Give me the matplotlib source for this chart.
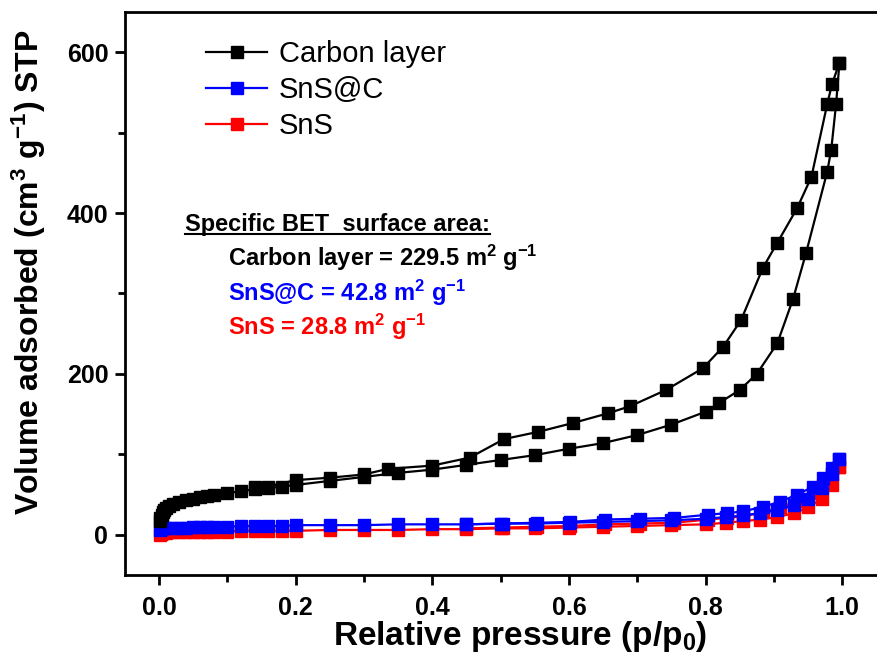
import matplotlib
matplotlib.use('Agg')
import matplotlib.pyplot as plt
from matplotlib.lines import Line2D

plt.rcParams['font.family'] = ['Liberation Sans', 'DejaVu Sans']
plt.rcParams['mathtext.fontset'] = 'custom'
plt.rcParams['mathtext.rm'] = 'Liberation Sans:bold'
plt.rcParams['mathtext.it'] = 'Liberation Sans:bold'
plt.rcParams['mathtext.bf'] = 'Liberation Sans:bold'
plt.rcParams['mathtext.default'] = 'rm'

# Carbon layer isotherm
carbon_ads_p = [0.001, 0.002, 0.004, 0.006, 0.008, 0.01, 0.015, 0.02, 0.03, 0.04, 0.05, 0.06,
                0.07, 0.08, 0.10, 0.12, 0.14, 0.16, 0.18, 0.20, 0.25, 0.30, 0.35, 0.40, 0.45,
                0.50, 0.55, 0.60, 0.65, 0.70, 0.75, 0.80, 0.82, 0.85, 0.875, 0.905, 0.928,
                0.947, 0.978, 0.984, 0.991, 0.996]
carbon_ads_v = [17, 21, 25, 28, 31, 33, 36, 38, 41, 43, 45, 47, 48, 49, 52, 54, 57, 58, 60, 62,
                67, 72, 77, 81, 87, 93, 99, 107, 114, 124, 137, 153, 164, 180, 200, 238, 293,
                350, 451, 479, 535, 587]
carbon_des_p = [0.996, 0.985, 0.978, 0.955, 0.934, 0.905, 0.884, 0.852, 0.826, 0.796, 0.742,
                0.69, 0.657, 0.606, 0.555, 0.505, 0.455, 0.40, 0.335, 0.30, 0.25, 0.20, 0.16, 0.14]
carbon_des_v = [587, 560, 535, 445, 406, 363, 332, 267, 234, 207, 180, 160, 151, 139, 128, 119,
                96, 86, 82, 75, 71, 68, 60, 60]

# SnS@C and SnS isotherms
small_ads_p = [0.001, 0.003, 0.006, 0.01, 0.02, 0.03, 0.04, 0.05, 0.06, 0.07, 0.08, 0.10, 0.12,
               0.14, 0.16, 0.18, 0.20, 0.25, 0.30, 0.35, 0.40, 0.45, 0.50, 0.55, 0.60, 0.65,
               0.70, 0.75, 0.80, 0.83, 0.855, 0.88, 0.905, 0.93, 0.95, 0.97, 0.985, 0.995]
small_des_p = [0.995, 0.985, 0.972, 0.958, 0.934, 0.909, 0.884, 0.855, 0.832, 0.804, 0.754,
               0.704, 0.653, 0.602, 0.553, 0.504, 0.45]

snsc_ads_v = [6, 7, 8, 8, 9, 9, 9, 10, 10, 10, 10, 10, 11, 11, 11, 11, 12, 12, 12, 13, 13, 13,
              14, 14, 15, 16, 17, 18, 20, 22, 24, 27, 31, 37, 45, 58, 75, 94]
snsc_des_v = [94, 83, 71, 60, 50, 41, 35, 29, 27, 25, 21, 20, 19, 16, 15, 14, 13]

sns_ads_v = [0, 1, 2, 2, 3, 3, 3, 4, 4, 4, 4, 4, 5, 5, 5, 5, 5, 6, 6, 6, 7, 7, 8, 8, 9, 10, 11,
             12, 13, 15, 17, 19, 22, 27, 34, 45, 62, 84]
sns_des_v = [84, 75, 62, 52, 42, 34, 28, 23, 21, 19, 15, 14, 13, 11, 10, 9, 8]

fig = plt.figure(figsize=(8.77, 6.64), dpi=100)
ax = fig.add_axes([0.1425, 0.134, 0.87, 0.848])

ms = 9
ax.plot(small_ads_p, sns_ads_v, 's-', color='red', ms=ms, lw=1.6)
ax.plot(small_des_p, sns_des_v, 's-', color='red', ms=ms, lw=1.6)
ax.plot(small_ads_p, snsc_ads_v, 's-', color='blue', ms=ms, lw=1.6)
ax.plot(small_des_p, snsc_des_v, 's-', color='blue', ms=ms, lw=1.6)
ax.plot(carbon_ads_p, carbon_ads_v, 's-', color='black', ms=ms, lw=1.6)
ax.plot(carbon_des_p, carbon_des_v, 's-', color='black', ms=ms, lw=1.6)

ax.set_xlim(-0.0498, 1.067)
ax.set_ylim(-50, 650)
ax.set_xticks([0.0, 0.2, 0.4, 0.6, 0.8, 1.0])
ax.set_xticks([0.1, 0.3, 0.5, 0.7, 0.9], minor=True)
ax.set_yticks([0, 200, 400, 600])
ax.set_yticks([100, 300, 500], minor=True)
ax.tick_params(which='major', direction='out', length=7, width=2, labelsize=18)
ax.tick_params(which='minor', direction='out', length=5, width=2)
ax.tick_params(axis='x', which='major', pad=8)
ax.tick_params(axis='y', which='major', pad=5)
for lab in ax.get_xticklabels() + ax.get_yticklabels():
    lab.set_fontweight('bold')
for s in ax.spines.values():
    s.set_linewidth(2)
ax.spines['right'].set_visible(False)

ax.set_xlabel('Relative pressure (p/p$_0$)', fontsize=24, fontweight='bold')
ax.set_ylabel('Volume adsorbed (cm$^3$ g$^{-1}$) STP', fontsize=23, fontweight='bold')
ax.xaxis.set_label_coords(0.518, -0.078)
ax.yaxis.set_label_coords(-0.101, 0.538)

handles = [Line2D([], [], color='black', marker='s', ms=8, lw=1.6),
           Line2D([], [], color='blue', marker='s', ms=8, lw=1.6),
           Line2D([], [], color='red', marker='s', ms=8, lw=1.6)]
ax.legend(handles, ['Carbon layer', 'SnS@C', 'SnS'], loc='upper left',
          bbox_to_anchor=(0.072, 0.997), frameon=False, fontsize=21,
          handlelength=2.1, handletextpad=0.4, labelspacing=0.28)

fs = 17
title = ax.text(0.038, 386, 'Specific BET  surface area:', fontsize=fs, fontweight='bold',
                va='center', ha='left')
ax.text(0.101, 344, 'Carbon layer = 229.5 m$^2$ g$^{-1}$', fontsize=fs, fontweight='bold',
        va='center', color='black')
ax.text(0.101, 301, 'SnS@C = 42.8 m$^2$ g$^{-1}$', fontsize=fs, fontweight='bold',
        va='center', color='blue')
ax.text(0.101, 259, 'SnS = 28.8 m$^2$ g$^{-1}$', fontsize=fs, fontweight='bold',
        va='center', color='red')

# underline the heading
fig.canvas.draw()
bb = title.get_window_extent().transformed(fig.transFigure.inverted())
fig.add_artist(Line2D([bb.x0, bb.x1], [bb.y0 + 0.003, bb.y0 + 0.003], color='black', lw=1.5,
                      transform=fig.transFigure))

fig.savefig('out.png', dpi=100)
